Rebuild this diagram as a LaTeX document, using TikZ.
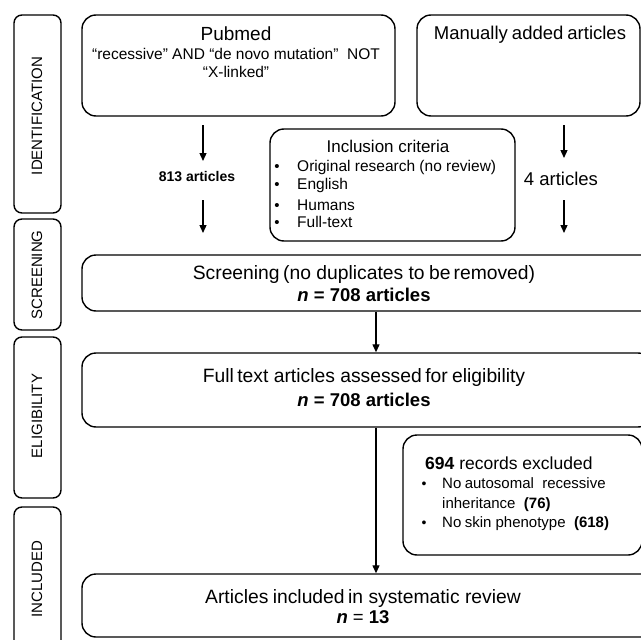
\documentclass[tikz,border=0pt]{standalone}
\usepackage{fontspec}
\setmainfont{Liberation Sans}
\usetikzlibrary{arrows.meta}
\newcommand{\fsz}[1]{\fontsize{#1}{#1}\selectfont}
\begin{document}
\begin{tikzpicture}[x=1pt,y=-1pt,
  box/.style={draw=black,line width=1.4pt,rounded corners=14pt,inner sep=0pt},
  sidebox/.style={draw=black,line width=1.4pt,rounded corners=8pt,inner sep=0pt,minimum width=47pt},
  sidelbl/.style={rotate=90,font=\fsz{15},inner sep=0pt},
  txt/.style={inner sep=0pt,anchor=base},
  arr/.style={line width=1.3pt,-{Triangle[width=7pt,length=8pt]}}]
\useasboundingbox (0,0) rectangle (641,640);
\clip (0,0) rectangle (641,640);
% side labels
\node[sidebox,minimum height=198pt] (sid) at (37.5,114) {};
\node[sidebox,minimum height=111pt] (sscr) at (37.5,274.5) {};
\node[sidebox,minimum height=161pt] (selig) at (37.5,417.5) {};
\node[sidebox,minimum height=173pt] (sincl) at (37.5,593.5) {};
\node[sidelbl] (lid) at (37,116) {IDENTIFICATION};
\node[sidelbl] (lscr) at (37,275) {SCREENING};
\node[sidelbl] (lelig) at (37,416) {ELIGIBILITY};
\node[sidelbl] (lincl) at (37,579) {INCLUDED};
% boxes
\node[box,minimum width=313pt,minimum height=101pt] (pub) at (238.5,65.5) {};
\node[box,minimum width=223pt,minimum height=101pt] (man) at (528.5,65.5) {};
\node[box,minimum width=245pt,minimum height=112pt] (inc) at (392.5,185) {};
\node[box,minimum width=618pt,minimum height=56pt] (scr) at (391,283) {};
\node[box,minimum width=570pt,minimum height=74pt] (ft) at (367,390) {};
\node[box,minimum width=239pt,minimum height=120pt] (exc) at (522.5,495) {};
\node[box,minimum width=618pt,minimum height=63pt] (incl) at (391,605.5) {};
% texts
\node[txt,font=\fsz{19}] (t1) at (236,40) {Pubmed};
\node[txt,font=\fsz{15.5}] (t2) at (236,59) {“recessive” AND “de novo mutation”\ \ NOT};
\node[txt,font=\fsz{15.5}] (t3) at (236,77) {“X-linked”};
\node[txt,font=\fsz{18.5}] (t4) at (530,39) {Manually\hspace{-0.06em} added\hspace{-0.06em} articles};
\node[txt,font=\fsz{14}\bfseries] (t5) at (197,181) {813 articles};
\node[txt,font=\fsz{18.5}] (t6) at (561,185) {4 articles};
\node[txt,font=\fsz{17}] (t7) at (388,152) {Inclusion criteria};
\foreach \yy/\tt [count=\i] in {171/Original research (no review),189/English,210/Humans,227/Full-text}{
  \node[txt,font=\fsz{15}] (b\i) at (277,\yy) {•};
  \node[txt,anchor=base west,font=\fsz{15.5}] (it\i) at (297,\yy) {\tt};
}
\node[txt,font=\fsz{19.3}] (t8) at (364,279) {Screening\hspace{-0.1em} (no duplicates to\hspace{-0.05em} be\hspace{-0.12em} removed)};
\node[txt,font=\fsz{18.5}\bfseries] (t9) at (364,301) {\textit{n} = 708 articles};
\node[txt,font=\fsz{19.3}] (t10) at (364,382) {Full\hspace{-0.1em} text articles assessed\hspace{-0.1em} for\hspace{-0.05em} eligibility};
\node[txt,font=\fsz{18.5}\bfseries] (t11) at (364,406) {\textit{n} = 708 articles};
\node[txt,anchor=base west,font=\fsz{17.5}] (t12) at (425,469) {\textbf{694} records excluded};
\node[txt,font=\fsz{14}] (eb1) at (424,488) {•};
\node[txt,anchor=base west,font=\fsz{15}] (e1) at (442,488) {No\hspace{-0.05em} autosomal\ \ recessive};
\node[txt,anchor=base west,font=\fsz{15}] (e2) at (442,508) {inheritance\ \ \textbf{(76)}};
\node[txt,font=\fsz{14}] (eb2) at (424,527) {•};
\node[txt,anchor=base west,font=\fsz{15}] (e3) at (442,527) {No\hspace{-0.05em} skin phenotype\ \ \textbf{(618)}};
\node[txt,font=\fsz{19.3}] (t13) at (363,603) {Articles\hspace{-0.05em} included\hspace{-0.1em} in\ systematic review};
\node[txt,font=\fsz{18.5}] (t14) at (363,623) {\textbf{\textit{n}} = \textbf{13}};
% arrows
\coordinate (a1s) at (203,125); \coordinate (a1e) at (203,161);
\coordinate (a2s) at (203,200); \coordinate (a2e) at (203,233);
\coordinate (a3s) at (564,125); \coordinate (a3e) at (564,158);
\coordinate (a4s) at (564,200); \coordinate (a4e) at (564,233);
\coordinate (mx) at (376,0);
\draw[arr] (a1s) -- (a1e);
\draw[arr] (a2s) -- (a2e);
\draw[arr] (a3s) -- (a3e);
\draw[arr] (a4s) -- (a4e);
\draw[arr] (scr.south -| mx) -- (ft.north -| mx);
\draw[arr] (ft.south -| mx) -- (incl.north -| mx);
\end{tikzpicture}
\end{document}
